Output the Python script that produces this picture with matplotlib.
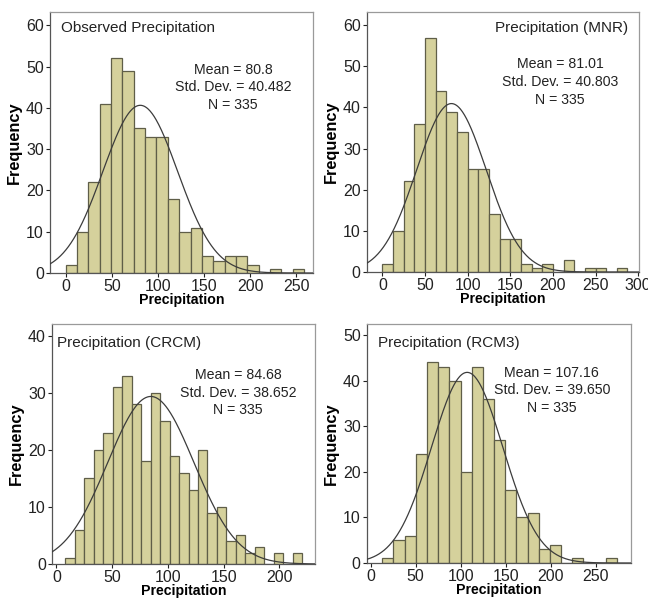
import matplotlib
matplotlib.use("Agg")
import matplotlib.pyplot as plt
import numpy as np

plt.rcParams['font.family'] = ['Liberation Sans', 'DejaVu Sans']

# -----------------------------------------------------------------------------
# Histogram counts per station/model series
# -----------------------------------------------------------------------------

obs_counts = [2, 10, 22, 41, 52, 49, 35, 33, 33, 18, 10, 11, 4, 3, 4, 4, 2, 0, 1, 0, 1]
obs_start, obs_width = 0.0, 12.3
obs_stats = (80.8, 40.482, 335)

mnr_counts = [2, 10, 22, 36, 57, 44, 39, 34, 25, 25, 14, 8, 8, 2, 1, 2, 0, 3, 0, 1, 1, 0, 1]
mnr_start, mnr_width = 0.0, 12.5
mnr_stats = (81.01, 40.803, 335)

crcm_counts = [1, 6, 15, 20, 23, 31, 33, 28, 18, 30, 25, 19, 16, 13, 20, 9, 10, 4, 5, 2, 3, 0, 2, 0, 2]
crcm_start, crcm_width = 8.0, 8.5
crcm_stats = (84.68, 38.652, 335)

rcm3_counts = [1, 5, 6, 24, 44, 43, 40, 20, 43, 36, 27, 16, 10, 11, 3, 4, 0, 1, 0, 0, 1]
rcm3_start, rcm3_width = 13.0, 12.4
rcm3_stats = (107.16, 39.650, 335)

W, H = 648, 599
fig = plt.figure(figsize=(W / 100, H / 100), dpi=100)

barColor = "#d5d19c"
edgeColor = "#5f5e48"


def panel(box, counts, start, width, stats, title, titleLeft, xlim, ylim,
          xticks, yticks, statsPos, titlePos):
    l, t, r, b = box
    ax = fig.add_axes([l / W, 1 - b / H, (r - l) / W, (b - t) / H])
    counts = np.array(counts)
    edges = start + width * np.arange(len(counts) + 1)
    ax.bar(edges[:-1], counts, width=width, align="edge", color=barColor,
           edgecolor=edgeColor, linewidth=0.9, zorder=2)

    # normal curve scaled to the histogram's bin width
    mean, sd, n = stats
    xs = np.linspace(xlim[0], xlim[1], 400)
    ys = n * width / (sd * np.sqrt(2 * np.pi)) * np.exp(-0.5 * ((xs - mean) / sd) ** 2)
    ax.plot(xs, ys, color="#3c3c3c", linewidth=0.9, zorder=3)

    ax.set_xlim(*xlim)
    ax.set_ylim(*ylim)
    ax.set_xticks(xticks)
    ax.set_yticks(yticks)
    ax.tick_params(direction="out", length=3, width=0.8, labelsize=11.5,
                   pad=1.5, colors="#222222")
    for side in ["top", "right"]:
        ax.spines[side].set_color("#9a9a9a")
    for side in ["left", "bottom"]:
        ax.spines[side].set_color("#555555")
    for s in ax.spines.values():
        s.set_linewidth(0.9)

    ax.set_xlabel("Precipitation", fontsize=10.2, fontweight="bold", labelpad=-1)
    ax.set_ylabel("Frequency", fontsize=11.8, fontweight="bold", labelpad=3)

    ha = "left" if titleLeft else "right"
    ax.text(titlePos[0], titlePos[1], title, transform=ax.transAxes, ha=ha,
            va="center", fontsize=11, color="#222222")
    txt = "Mean = {0}\nStd. Dev. = {1:.3f}\nN = {2}".format(mean, sd, n)
    ax.text(statsPos[0], statsPos[1], txt, transform=ax.transAxes, ha="center",
            va="top", fontsize=10.2, color="#222222", linespacing=1.32)
    return ax


panel((50, 12, 313, 273), obs_counts, obs_start, obs_width, obs_stats,
      "Observed Precipitation", True, (-17, 268), (0, 63.2),
      [0, 50, 100, 150, 200, 250], [0, 10, 20, 30, 40, 50, 60],
      (0.697, 0.805), (0.04, 0.94))

panel((367, 12, 639, 272), mnr_counts, mnr_start, mnr_width, mnr_stats,
      "Precipitation (MNR)", False, (-18, 301), (0, 63.2),
      [0, 50, 100, 150, 200, 250, 300], [0, 10, 20, 30, 40, 50, 60],
      (0.71, 0.825), (0.96, 0.94))

panel((52, 324, 315, 564), crcm_counts, crcm_start, crcm_width, crcm_stats,
      "Precipitation (CRCM)", True, (-4, 232), (0, 42.1),
      [0, 50, 100, 150, 200], [0, 10, 20, 30, 40],
      (0.707, 0.815), (0.02, 0.92))

panel((367, 324, 631, 563), rcm3_counts, rcm3_start, rcm3_width, rcm3_stats,
      "Precipitation (RCM3)", True, (-4, 289), (0, 52.4),
      [0, 50, 100, 150, 200, 250], [0, 10, 20, 30, 40, 50],
      (0.7, 0.825), (0.04, 0.92))

fig.savefig("out.png", dpi=100)
